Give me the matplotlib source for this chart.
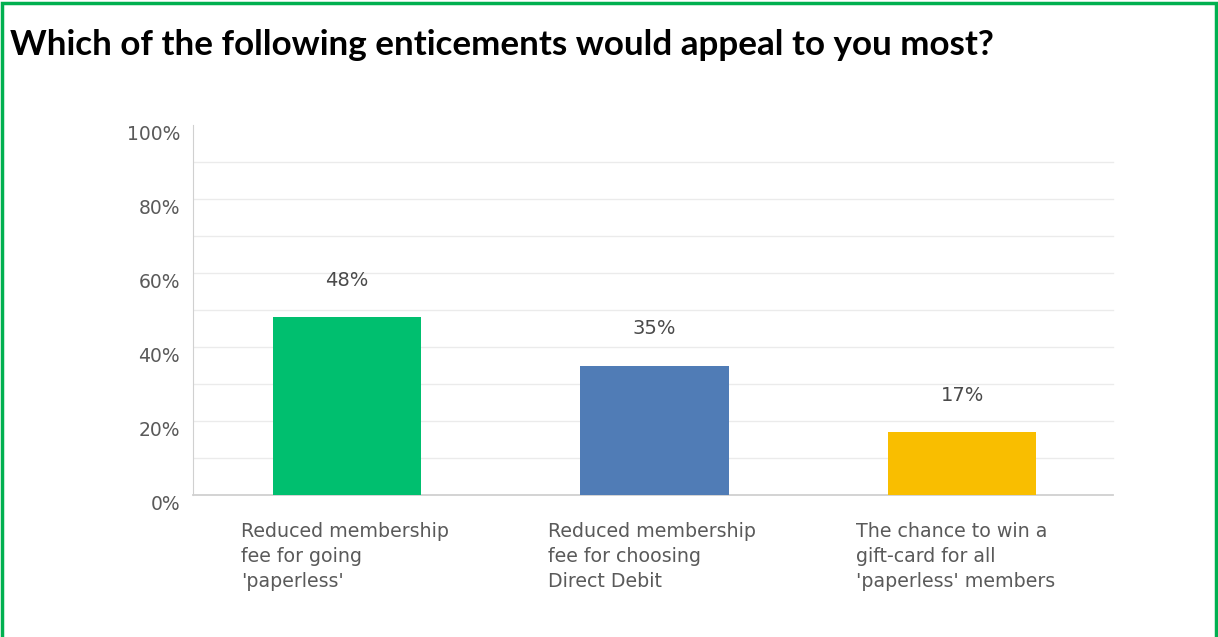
import matplotlib.pyplot as plt
from matplotlib.patches import Rectangle
import matplotlib.transforms as mtransforms

# survey answers and share of respondents
categories = [
    "Reduced membership\nfee for going\n'paperless'",
    "Reduced membership\nfee for choosing\nDirect Debit",
    "The chance to win a\ngift-card for all\n'paperless' members",
]
shares = [48, 35, 17]
bar_colors = ["#00BF6F", "#507CB6", "#F9BE00"]
y_ticks = [0, 20, 40, 60, 80, 100]
title = "Which of the following enticements would appeal to you most?"

fig = plt.figure(figsize=(12.18, 6.37), dpi=100)
fig.patch.set_facecolor("white")

# green frame around the whole slide
frame = Rectangle((2 / 1218, -0.05), 1214 / 1218, 1.05 - 3 / 637,
                  transform=fig.transFigure, fill=False,
                  edgecolor="#00B050", linewidth=2.5)
fig.patches.append(frame)

fig.text(10 / 1218, 1 - 45 / 637, title, fontsize=25.2, fontweight="bold",
         family="Lato", va="center", ha="left", color="black")

ax = fig.add_axes([193 / 1218, 1 - 495 / 637, 923 / 1218, 370 / 637])
x = range(len(categories))
ax.bar(x, shares, width=0.483, color=bar_colors, zorder=3)

ax.set_xlim(-0.5, 2.5)
ax.set_ylim(0, 100)

# light grid every 10%
for v in range(10, 100, 10):
    ax.axhline(v, xmax=0.997, color="#ebebeb", linewidth=1, zorder=1)

for s in ["top", "right"]:
    ax.spines[s].set_visible(False)
ax.spines["left"].set_color("#d0d0d0")
ax.spines["bottom"].set_color("#d0d0d0")
ax.spines["bottom"].set_linewidth(1.3)
ax.spines["bottom"].set_bounds(-0.5, 2.49)

ax.set_xticks([])
ax.set_yticks([])

# y labels sit a little below their gridline
off = mtransforms.offset_copy(ax.transData, fig=fig, x=-13, y=-9, units="dots")
for t in y_ticks:
    ax.text(-0.5, t, f"{t}%", transform=off, ha="right", va="center",
            fontsize=13.5, color="#5a5a5a", family="DejaVu Sans")

# value labels above the bars
for i, v in enumerate(shares):
    ax.text(i, v + 10, f"{v}%", ha="center", va="center",
            fontsize=14, color="#4a4a4a", family="DejaVu Sans")

# category labels under the axis
lab = mtransforms.offset_copy(ax.transData, fig=fig, x=0, y=-27, units="dots")
for i, c in enumerate(categories):
    ax.text(i - 0.345, 0, c, transform=lab, ha="left", va="top",
            fontsize=13.7, color="#5a5a5a", family="DejaVu Sans",
            linespacing=1.4)

fig.savefig("out.png", dpi=100, facecolor="white")
